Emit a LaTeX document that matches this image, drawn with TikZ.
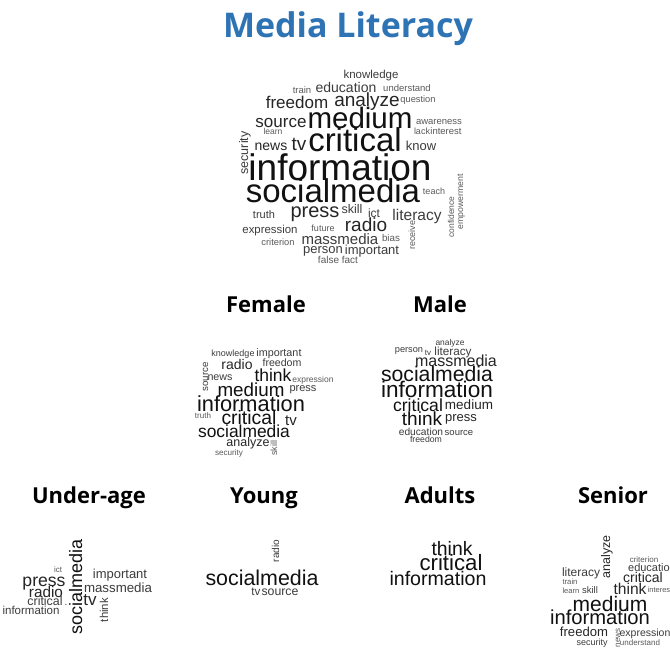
\documentclass[tikz,border=0pt]{standalone}
\usepackage{fontspec}
\setmainfont{Liberation Sans}
\newfontfamily\headfont{Open Sans}
\definecolor{titleblue}{HTML}{2E74B5}
\definecolor{wa}{HTML}{111111}
\definecolor{wb}{HTML}{262626}
\definecolor{wc}{HTML}{3C3C3C}
\definecolor{wd}{HTML}{5A5A5A}
\tikzset{
  w/.style={inner sep=0pt, outer sep=0pt, anchor=base, font=\fontsize{#1}{#1}\selectfont},
  ca/.style={text=wa}, cb/.style={text=wb}, cc/.style={text=wc}, cd/.style={text=wd},
  v/.style={rotate=90},
  heading/.style={inner sep=0pt, anchor=base, font=\headfont\bfseries\fontsize{22}{22}\selectfont, text=black},
  titletext/.style={inner sep=0pt, anchor=base, font=\headfont\bfseries\fontsize{34}{34}\selectfont, text=titleblue}
}
\begin{document}
\begin{tikzpicture}[x=1pt,y=-1pt]
\useasboundingbox (0,0) rectangle (670,648);
\fill[white] (0,0) rectangle (670,648);
% title
\node[titletext] (title) at (348,37) {Media Literacy};
% ===== overall cloud =====
\node[w=11.5,cc] (a1) at (371,78) {knowledge};
\node[w=9.5,cd] (a2) at (302,93) {train};
\node[w=14,cc] (a3) at (346,92) {education};
\node[w=9.5,cd] (a4) at (407,91) {understand};
\node[w=17,cb] (a5) at (297,108) {freedom};
\node[w=19,cb] (a6) at (367,106) {analyze};
\node[w=9.3,cd] (a7) at (418,102) {question};
\node[w=17,cb] (a8) at (281,127) {source};
\node[w=29.5,ca] (a9) at (360,128) {medium};
\node[w=9.5,cd] (a10) at (439,124) {awareness};
\node[w=9,cd] (a11) at (422,134) {lack};
\node[w=9.5,cd] (a12) at (446,134) {interest};
\node[w=8.5,cd] (a13) at (273,134) {learn};
\node[w=14,cb] (a14) at (271,150) {news};
\node[w=19,cb] (a15) at (299,150) {tv};
\node[w=33,ca] (a16) at (355,151) {critical};
\node[w=13,cc] (a17) at (421,150) {know};
\node[w=12.5,cc,v] (a18) at (248,153) {security};
\node[w=37,ca] (a19) at (340,180) {information};
\node[w=33,ca] (a20) at (333,202) {socialmedia};
\node[w=9,cd] (a21) at (434,194) {teach};
\node[w=11,cc] (a22) at (264,218) {truth};
\node[w=20,cb] (a23) at (315,217) {press};
\node[w=12.5,cc] (a24) at (352,213) {skill};
\node[w=12,cc] (a25) at (374,217) {ict};
\node[w=15.5,cc] (a26) at (417,220) {literacy};
\node[w=8.5,cd,v] (a27) at (454,217) {confidence};
\node[w=8.7,cd,v] (a28) at (463,202) {empowerment};
\node[w=9,cd,v] (a29) at (415,235) {receive};
\node[w=11.4,cc] (a30) at (270,233) {expression};
\node[w=9,cd] (a31) at (323,231) {future};
\node[w=19,cb] (a32) at (366,231) {radio};
\node[w=15,cc] (a33) at (340,244) {massmedia};
\node[w=9.8,cd] (a34) at (391,241) {bias};
\node[w=9.3,cd] (a35) at (278,245) {criterion};
\node[w=13,cc] (a36) at (323,253) {person};
\node[w=13,cc] (a37) at (372,254) {important};
\node[w=10,cd] (a38) at (338,263) {false fact};
% ===== headings =====
\node[heading] (hf) at (266,312) {Female};
\node[heading] (hm) at (440,312) {Male};
\node[heading] (hu) at (89,503) {Under-age};
\node[heading] (hy) at (264,503) {Young};
\node[heading] (ha) at (440,503) {Adults};
\node[heading] (hs) at (613,503) {Senior};
% ===== female =====
\node[w=9,cc] (f1) at (233,356) {knowledge};
\node[w=10.8,cc] (f2) at (279,356) {important};
\node[w=14,cb] (f3) at (237,369) {radio};
\node[w=10.6,cc] (f4) at (282,366) {freedom};
\node[w=9.7,cc,v] (f5) at (208,377) {source};
\node[w=10.7,cc] (f6) at (220,380) {news};
\node[w=17.5,ca] (f7) at (273,381) {think};
\node[w=8.5,cd] (f8) at (313,382) {expression};
\node[w=18.8,ca] (f9) at (251,396) {medium};
\node[w=11,cc] (f10) at (303,391) {press};
\node[w=21.8,ca] (f11) at (251,411) {information};
\node[w=8,cd] (f12) at (203,418) {truth};
\node[w=19.4,ca] (f13) at (249,424) {critical};
\node[w=15,cb] (f14) at (291,425) {tv};
\node[w=17.4,ca] (f15) at (244,437) {socialmedia};
\node[w=12.5,cb] (f16) at (248,446) {analyze};
\node[w=9,cd,v] (f17) at (277,448) {skill};
\node[w=8.1,cd] (f18) at (229,455) {security};
% ===== male =====
\node[w=8.4,cc] (m1) at (450,345) {analyze};
\node[w=9.2,cc] (m2) at (409,352) {person};
\node[w=8,cc] (m3) at (428,355) {tv};
\node[w=11.7,cc] (m4) at (453,355) {literacy};
\node[w=16,cb] (m5) at (456,366) {massmedia};
\node[w=21.2,ca] (m6) at (437,381) {socialmedia};
\node[w=22.6,ca] (m7) at (437,397) {information};
\node[w=17.6,ca] (m8) at (418,411) {critical};
\node[w=13.5,cb] (m9) at (469,409) {medium};
\node[w=19,ca] (m10) at (422,425) {think};
\node[w=13,cb] (m11) at (461,421) {press};
\node[w=10.2,cc] (m12) at (421,435) {education};
\node[w=9.5,cc] (m13) at (459,435) {source};
\node[w=8.7,cc] (m14) at (426,442) {freedom};
% ===== under-age =====
\node[w=18,ca,v] (u1) at (82,587) {socialmedia};
\node[w=8,cd] (u2) at (58,572) {ict};
\node[w=17.6,cb] (u3) at (44,586) {press};
\node[w=13,cc] (u4) at (120,578) {important};
\node[w=13.3,cc] (u5) at (118,592) {massmedia};
\node[w=15.3,cb] (u6) at (46,597) {radio};
\node[w=17,cb] (u7) at (90,605) {tv};
\node[w=11.4,cc,v] (u8) at (108,610) {think};
\node[w=12.4,cc] (u9) at (45,605) {critical};
\node[w=10,cc] (u10) at (66,605) {.};
\node[w=11.5,cc] (u11) at (31,614) {information};
% ===== young =====
\node[w=10,cc,v] (y1) at (279,551) {radio};
\node[w=21.4,ca] (y2) at (262,585) {socialmedia};
\node[w=11.6,cc] (y3) at (256,595) {tv};
\node[w=12.3,cc] (y4) at (280,595) {source};
% ===== adults =====
\node[w=19.4,ca] (d1) at (452,555) {think};
\node[w=22.2,ca] (d2) at (451,570) {critical};
\node[w=19.6,ca] (d3) at (438,585) {information};
% ===== senior =====
\node[w=12.5,cb,v] (s1) at (610,557) {analyze};
\node[w=8,cd] (s2) at (644,562) {criterion};
\node[w=11,cc] (s3) at (652,571) {education};
\node[w=12,cc] (s4) at (581,576) {literacy};
\node[w=14,cb] (s5) at (643,582) {critical};
\node[w=7.7,cd] (s6) at (570,584) {train};
\node[w=7.6,cd] (s7) at (571,593) {learn};
\node[w=9.5,cc] (s8) at (590,593) {skill};
\node[w=15.6,cb] (s9) at (630,594) {think};
\node[w=7.5,cd] (s10) at (660,592) {interest};
\node[w=21,ca] (s11) at (610,611) {medium};
\node[w=20.2,ca] (s12) at (600,624) {information};
\node[w=13.1,cb] (s13) at (584,636) {freedom};
\node[w=8,cd,v] (s14) at (620,638) {news};
\node[w=10.5,cc] (s15) at (645,636) {expression};
\node[w=9,cc] (s16) at (592,645) {security};
\node[w=8,cd] (s17) at (640,645) {understand};
\end{tikzpicture}
\end{document}
